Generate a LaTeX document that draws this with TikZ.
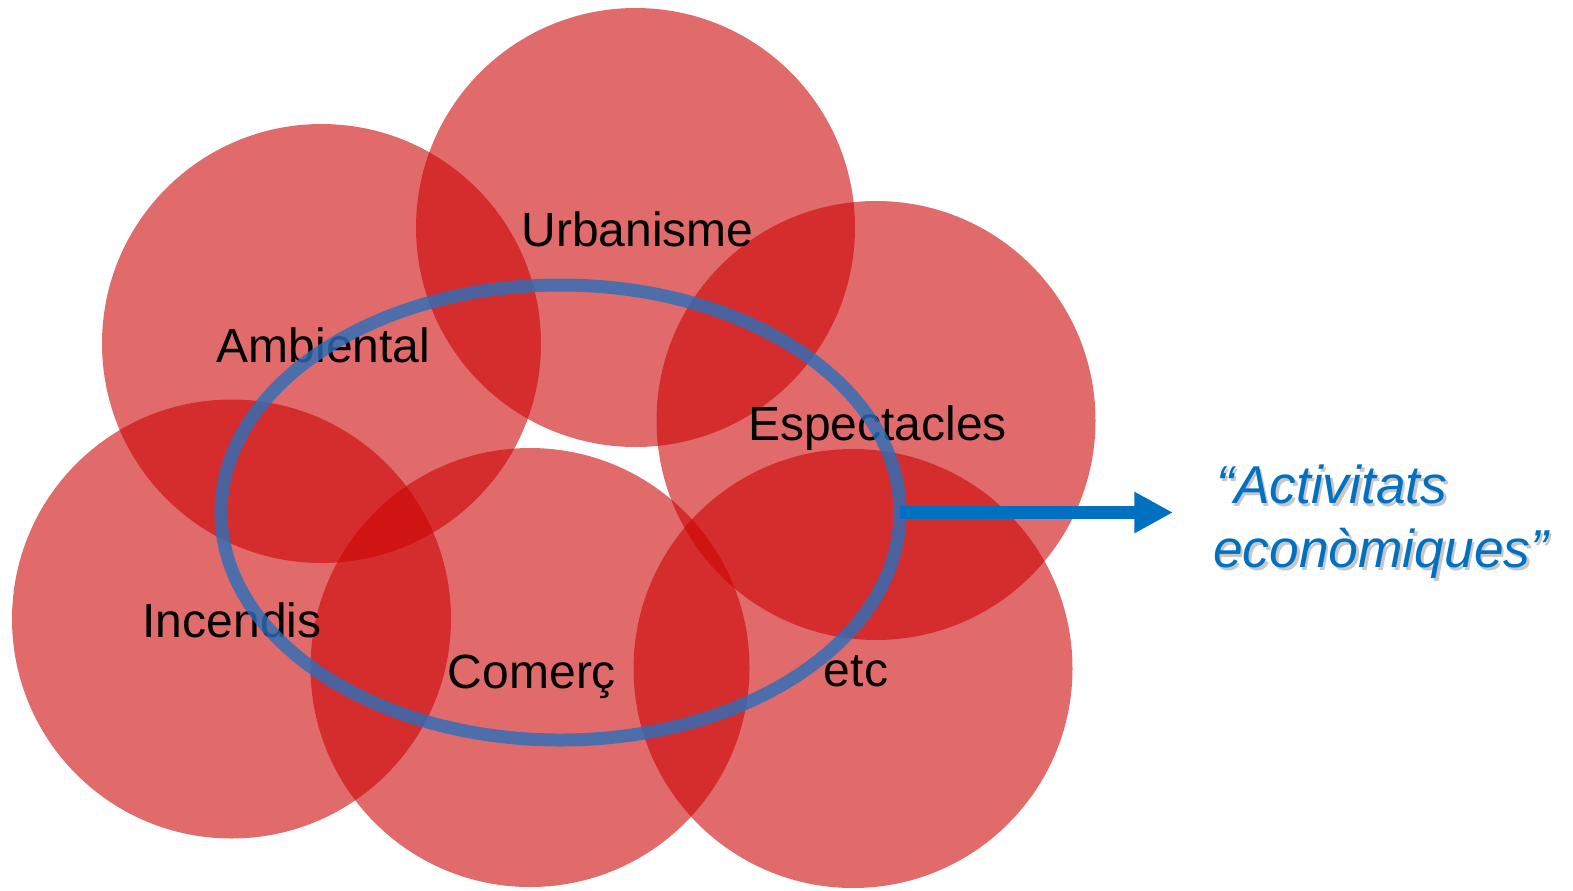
\documentclass[tikz,border=0pt]{standalone}
\usepackage{fontspec}
\setmainfont{Liberation Sans}
\usetikzlibrary{shapes.geometric,arrows.meta}
\definecolor{circred}{RGB}{204,0,0}
\definecolor{ellblue}{RGB}{40,112,188}
\definecolor{arrblue}{RGB}{0,112,192}
\tikzset{
  zone/.style={circle, minimum size=329.25pt, inner sep=0pt, outer sep=0pt, fill=circred, fill opacity=0.58},
  lbl/.style={font=\fontsize{36}{40}\selectfont, text=black, inner sep=0pt, anchor=base},
  ring/.style={ellipse, minimum width=509.25pt, minimum height=341.25pt, inner sep=0pt, outer sep=0pt, draw=ellblue, draw opacity=0.8, line width=9.75pt},
  arr/.style={draw=arrblue, line width=9.75pt, -{Triangle[length=29pt,width=29pt]}},
  quote/.style={font=\fontsize{40}{48}\selectfont\itshape, text=arrblue, inner sep=0pt, anchor=base west},
  quoteshadow/.style={font=\fontsize{40}{48}\selectfont\itshape, text=black, text opacity=0.22, inner sep=0pt, anchor=base west}
}
\begin{document}
\begin{tikzpicture}[x=0.75pt,y=-0.75pt]
\useasboundingbox (0,0) rectangle (1573,890);
% circles
\node[zone] (u) at (635.5,227.5) {};
\node[zone] (a) at (321.5,343.5) {};
\node[zone] (s) at (876,420.5) {};
\node[zone] (i) at (231.5,619) {};
\node[zone] (c) at (530,667.5) {};
\node[zone] (e) at (853,668.5) {};
% labels
\node[lbl] (tu) at (637.5,246) {Urbanisme};
\node[lbl] (ta) at (323.5,362.5) {Ambiental};
\node[lbl] (ts) at (877.5,440) {Espectacles};
\node[lbl] (ti) at (232,637.5) {Incendis};
\node[lbl] (tc) at (532,688) {Comerç};
\node[lbl] (te) at (856,686.5) {etc};
% ellipse
\node[ring] (r) at (560.5,512.5) {};
% arrow
\coordinate (tip) at (1173,512.5);
\draw[arr] (r.east) -- (tip);
% text with shadow
\node[quoteshadow] (q1s) at (1218.5,506) {“Activitats};
\node[quoteshadow] (q2s) at (1215.5,570) {econòmiques”};
\node[quote] (q1) at (1216,503) {“Activitats};
\node[quote] (q2) at (1213,567) {econòmiques”};
\end{tikzpicture}
\end{document}
